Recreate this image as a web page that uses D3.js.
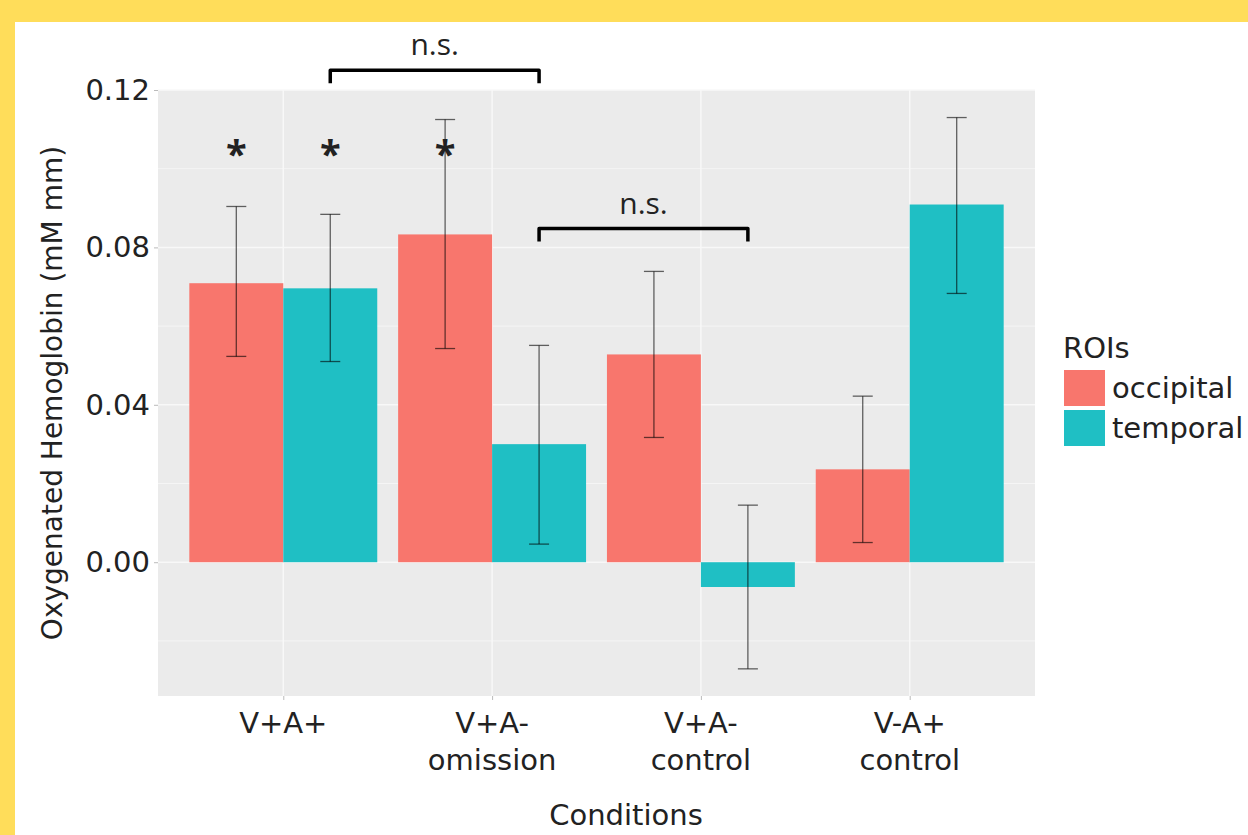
<!DOCTYPE html>
<html>
<head>
<meta charset="utf-8">
<script src="https://cdn.jsdelivr.net/npm/d3@7"></script>
<style>
  html, body { margin: 0; padding: 0; background: #FFDD5A; }
  svg { display: block; }
  text { font-family: "DejaVu Sans", sans-serif; fill: #222; }
</style>
</head>
<body>
<svg id="chart" width="1248" height="835"></svg>
<script>
// ---- data ----
var conditions = ["V+A+", "V+A- omission", "V+A- control", "V-A+ control"];
var conditionLines = [["V+A+"], ["V+A-", "omission"], ["V+A-", "control"], ["V-A+", "control"]];
var rois = ["occipital", "temporal"];

var occipitalMean = [0.0709, 0.0833, 0.0528, 0.0236];
var temporalMean  = [0.0696, 0.0300, -0.0063, 0.0909];
var occipitalLow  = [0.0523, 0.0543, 0.0317, 0.0050];
var occipitalHigh = [0.0904, 0.1125, 0.0739, 0.0422];
var temporalLow   = [0.0510, 0.0046, -0.0271, 0.0683];
var temporalHigh  = [0.0884, 0.0551, 0.0145, 0.1130];

var yTicks = [0.00, 0.04, 0.08, 0.12];
var yMinorTicks = [-0.02, 0.02, 0.06, 0.10];

// significance stars: [condition index, roi index]
var stars = [[0, 0], [0, 1], [1, 0]];
// n.s. brackets between temporal bars: [from condition, to condition, y value]
var brackets = [[0, 1, 0.125], [1, 2, 0.0848]];

// ---- layout ----
var svg = d3.select("#chart");
var margin = {left: 158, right: 1035, top: 90, bottom: 696};

// white panel
svg.append("rect")
    .attr("x", 15).attr("y", 22)
    .attr("width", 1248 - 15).attr("height", 835 - 22)
    .attr("fill", "#ffffff");

// ggplot discrete: centers spaced equally, 0.6 expansion on each side
var step = (margin.right - margin.left) / (conditions.length - 1 + 1.2);
var x = d3.scalePoint()
    .domain(conditions)
    .range([margin.left + 0.6 * step, margin.right - 0.6 * step]);

var dodge = d3.scaleBand()
    .domain(rois)
    .range([-0.45 * step, 0.45 * step]);

var y = d3.scaleLinear()
    .domain([-0.034, 0.12])
    .range([margin.bottom, margin.top]);

var color = d3.scaleOrdinal()
    .domain(rois)
    .range(["#F8766D", "#1FBFC4"]);

// plot background
svg.append("rect")
    .attr("x", margin.left).attr("y", margin.top)
    .attr("width", margin.right - margin.left)
    .attr("height", margin.bottom - margin.top)
    .attr("fill", "#EBEBEB");

// minor grid
svg.append("g").selectAll("line")
    .data(yMinorTicks)
    .enter().append("line")
    .attr("x1", margin.left).attr("x2", margin.right)
    .attr("y1", function(d) { return y(d); })
    .attr("y2", function(d) { return y(d); })
    .attr("stroke", "#F5F5F5").attr("stroke-width", 1);

// major grid
svg.append("g").selectAll("line")
    .data(yTicks)
    .enter().append("line")
    .attr("x1", margin.left).attr("x2", margin.right)
    .attr("y1", function(d) { return y(d); })
    .attr("y2", function(d) { return y(d); })
    .attr("stroke", "#F8F8F8").attr("stroke-width", 1.5);

svg.append("g").selectAll("line")
    .data(conditions)
    .enter().append("line")
    .attr("x1", function(d) { return x(d); })
    .attr("x2", function(d) { return x(d); })
    .attr("y1", margin.top).attr("y2", margin.bottom)
    .attr("stroke", "#F8F8F8").attr("stroke-width", 1.5);

// build rows
var rows = [];
conditions.forEach(function(c, i) {
    rows.push({cond: c, roi: "occipital", mean: occipitalMean[i], lo: occipitalLow[i], hi: occipitalHigh[i]});
    rows.push({cond: c, roi: "temporal", mean: temporalMean[i], lo: temporalLow[i], hi: temporalHigh[i]});
});

// bars
svg.append("g").selectAll("rect")
    .data(rows)
    .enter().append("rect")
    .attr("x", function(d) { return x(d.cond) + dodge(d.roi); })
    .attr("width", dodge.bandwidth())
    .attr("y", function(d) { return y(Math.max(0, d.mean)); })
    .attr("height", function(d) { return Math.abs(y(d.mean) - y(0)); })
    .attr("fill", function(d) { return color(d.roi); });

// error bars
var capHalf = 10;
var eb = svg.append("g")
    .attr("stroke", "#000").attr("stroke-opacity", 0.6).attr("stroke-width", 1.3);
rows.forEach(function(d) {
    var cx = x(d.cond) + dodge(d.roi) + dodge.bandwidth() / 2;
    eb.append("line").attr("x1", cx).attr("x2", cx).attr("y1", y(d.lo)).attr("y2", y(d.hi));
    eb.append("line").attr("x1", cx - capHalf).attr("x2", cx + capHalf).attr("y1", y(d.lo)).attr("y2", y(d.lo));
    eb.append("line").attr("x1", cx - capHalf).attr("x2", cx + capHalf).attr("y1", y(d.hi)).attr("y2", y(d.hi));
});

// axes
var yAxis = svg.append("g")
    .attr("transform", "translate(" + margin.left + ",0)")
    .call(d3.axisLeft(y).tickValues(yTicks).tickFormat(d3.format(".2f")).tickSize(4).tickPadding(4));
yAxis.select(".domain").remove();
yAxis.selectAll(".tick line").attr("stroke", "#bbb");
yAxis.selectAll("text").style("font-size", "29px").attr("fill", "#333").attr("font-family", null);

var xAxis = svg.append("g")
    .attr("transform", "translate(0," + margin.bottom + ")")
    .call(d3.axisBottom(x).tickSize(4).tickFormat(""));
xAxis.select(".domain").remove();
xAxis.selectAll(".tick line").attr("stroke", "#bbb");

svg.append("g").selectAll("text")
    .data(conditions)
    .enter().append("text")
    .attr("x", function(d) { return x(d); })
    .attr("y", 733)
    .attr("text-anchor", "middle")
    .style("font-size", "29px")
    .attr("fill", "#333")
    .each(function(d, i) {
        var t = d3.select(this);
        conditionLines[i].forEach(function(line, j) {
            t.append("tspan").attr("x", x(d)).attr("dy", j === 0 ? 0 : 37).text(line);
        });
    });

// axis titles
svg.append("text")
    .attr("x", 626)
    .attr("y", 825)
    .attr("text-anchor", "middle")
    .style("font-size", "29px")
    .text("Conditions");

svg.append("text")
    .attr("transform", "translate(62," + ((margin.top + margin.bottom) / 2) + ") rotate(-90)")
    .attr("text-anchor", "middle")
    .style("font-size", "28px")
    .text("Oxygenated Hemoglobin (mM mm)");

// stars
svg.append("g").selectAll("text")
    .data(stars)
    .enter().append("text")
    .attr("x", function(d) { return x(conditions[d[0]]) + dodge(rois[d[1]]) + dodge.bandwidth() / 2; })
    .attr("y", 168)
    .attr("text-anchor", "middle")
    .style("font-family", "'Open Sans', sans-serif")
    .style("font-size", "38px")
    .style("font-weight", "bold")
    .attr("fill", "#111")
    .text("*");

// brackets
var bg = svg.append("g");
brackets.forEach(function(b) {
    var x1 = x(conditions[b[0]]) + dodge("temporal") + dodge.bandwidth() / 2;
    var x2 = x(conditions[b[1]]) + dodge("temporal") + dodge.bandwidth() / 2;
    var by = y(b[2]);
    bg.append("path")
        .attr("d", "M" + x1 + "," + (by + 13) + "V" + by + "H" + x2 + "V" + (by + 13))
        .attr("fill", "none").attr("stroke", "#000").attr("stroke-width", 3.5)
        .attr("stroke-linejoin", "round");
    bg.append("text")
        .attr("x", (x1 + x2) / 2)
        .attr("y", by - 15)
        .attr("text-anchor", "middle")
        .style("font-family", "'Open Sans', sans-serif")
        .style("font-size", "30px")
        .attr("fill", "#111")
        .text("n.s.");
});

// legend
var lg = svg.append("g").attr("transform", "translate(1063,0)");
lg.append("text").attr("x", 0).attr("y", 358).style("font-size", "29px").text("ROIs");
lg.selectAll("rect.key")
    .data(rois)
    .enter().append("rect")
    .attr("class", "key")
    .attr("x", 1)
    .attr("y", function(d, i) { return 370 + i * 40; })
    .attr("width", 41).attr("height", 36)
    .attr("fill", function(d) { return color(d); });
lg.selectAll("text.lab")
    .data(rois)
    .enter().append("text")
    .attr("class", "lab")
    .attr("x", 49)
    .attr("y", function(d, i) { return 398 + i * 40; })
    .style("font-size", "29px")
    .text(function(d) { return d; });
</script>
</body>
</html>
